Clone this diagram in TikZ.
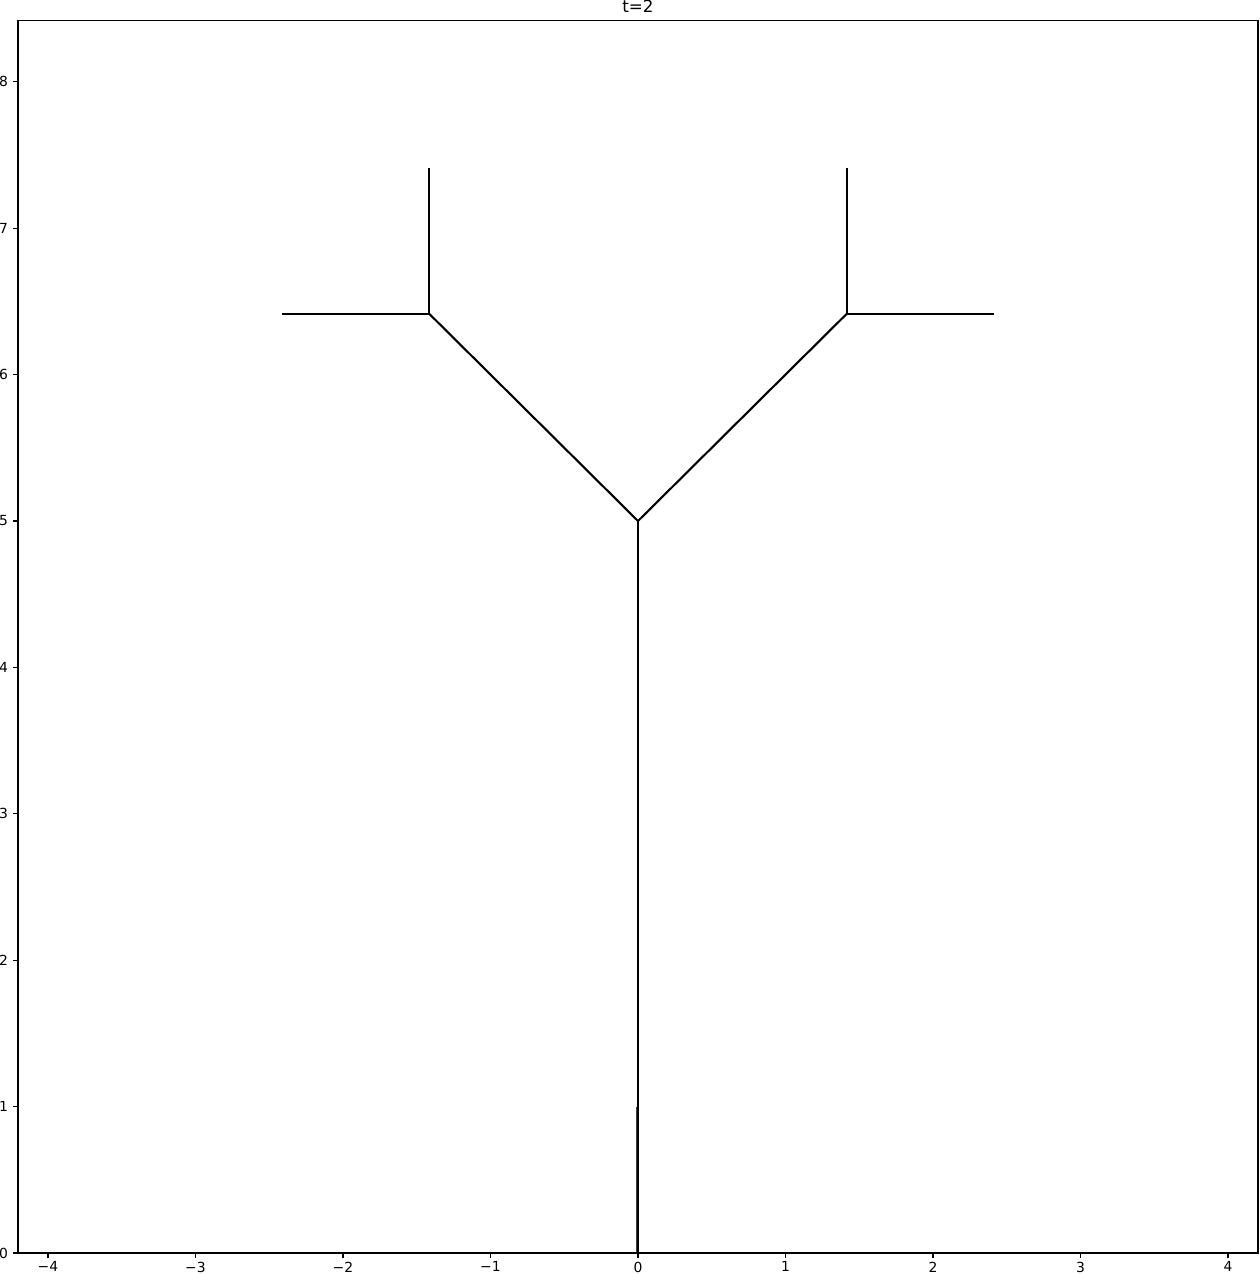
\documentclass[tikz,border=0pt]{standalone}
\usepackage{fontspec}
\setmainfont{DejaVu Sans}
\usepackage{tikz}

\tikzset{
  branch/.style={draw, line width=2.1pt, black},
  stub/.style={draw, line width=3pt, black!75},
  frame/.style={draw, line width=1.1pt},
  tick/.style={line width=1.1pt},
  ticklabel/.style={inner sep=0pt, font=\fontsize{13.9}{16}\selectfont},
  titlelabel/.style={inner sep=0pt, font=\fontsize{16.7}{19}\selectfont}
}

\begin{document}
\begin{tikzpicture}[x=147.5pt, y=146.4pt]
  % page = 1260 x 1274 px, 1 px = 1 pt
  \useasboundingbox (-4.3254,-0.1434) rectangle (4.2170,8.5588);

  % tree points
  \coordinate (root) at (0,0);
  \coordinate (stubtop) at (0,1);
  \coordinate (fork) at (0,5);
  \coordinate (lknot) at (-1.4142,6.4142);
  \coordinate (rknot) at (1.4142,6.4142);
  \coordinate (lup) at (-1.4142,7.4142);
  \coordinate (lside) at (-2.4142,6.4142);
  \coordinate (rup) at (1.4142,7.4142);
  \coordinate (rside) at (2.4142,6.4142);

  \draw[stub] (root) -- (stubtop);
  \draw[branch] (root) -- (fork);
  \draw[branch] (fork) -- (lknot);
  \draw[branch] (fork) -- (rknot);
  \draw[branch] (lknot) -- (lup);
  \draw[branch] (lknot) -- (lside);
  \draw[branch] (rknot) -- (rup);
  \draw[branch] (rknot) -- (rside);

  % axes box
  \coordinate (ll) at (-4.2034,0);
  \coordinate (ur) at (4.2034,8.4166);
  \draw[frame] (ll) rectangle (ur);

  \foreach \x/\lab in {-4/−4,-3/−3,-2/−2,-1/−1,0/0,1/1,2/2,3/3,4/4} {
    \draw[tick] (\x,0) -- ++(0,-4.9pt);
    \node[ticklabel, anchor=north] (xl\x) at ([yshift=-8.6pt]\x,0) {\lab};
  }
  \foreach \y in {0,...,8} {
    \draw[tick] (-4.2034,\y) -- ++(-4.9pt,0);
    \node[ticklabel, anchor=east] (yl\y) at ([xshift=-9.8pt]-4.2034,\y) {\y};
  }

  \node[titlelabel, anchor=base] (title) at ([yshift=8.3pt]0,8.4166) {t=2};
\end{tikzpicture}
\end{document}
